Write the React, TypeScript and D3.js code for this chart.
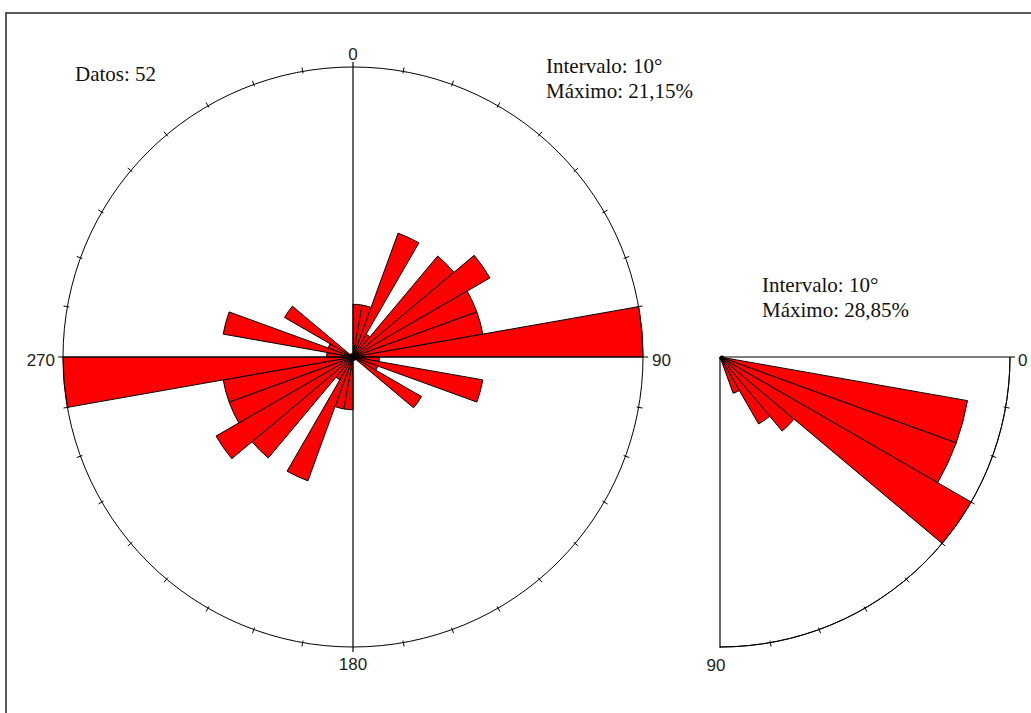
import React from "react";
import * as d3 from "d3";

// ---- data ----
const totalData = 52;
const binWidth = 10;
// strike (axial) bins 0..170, mirrored to 180..350
const strikeBins = [0, 10, 20, 30, 40, 50, 60, 70, 80, 90, 100, 110, 120, 130, 140, 150, 160, 170];
const strikeCounts = [2, 2, 5, 1, 5, 6, 5, 5, 11, 1, 5, 1, 3, 0, 0, 0, 0, 0];
// dip bins 0..80
const dipBins = [0, 10, 20, 30, 40, 50, 60, 70, 80];
const dipCounts = [0, 13, 13, 15, 5, 4, 2, 0, 0];
const mainAxisLabels = ["0", "90", "180", "270"];
const dipAxisLabels = ["0", "90"];

const fmtPct = (v: number) => v.toFixed(2).replace(".", ",") + "%";

const serif = "'Liberation Serif', 'Times New Roman', serif";
const sans = "'Liberation Sans', Arial, sans-serif";

export default function App() {
  const W = 1031;
  const H = 713;
  const toRad = (d: number) => (d * Math.PI) / 180;

  // main rose
  const cx = 353;
  const cy = 357;
  const R = 290;
  const strikePct = strikeCounts.map((c) => (c / totalData) * 100);
  const strikeMax = d3.max(strikePct) as number;
  const rMain = d3.scaleLinear().domain([0, strikeMax]).range([0, R]);
  const arc = d3.arc<any>();

  const mainWedges: { d: string; key: string }[] = [];
  strikeBins.forEach((b, i) => {
    if (strikeCounts[i] <= 0) return;
    [0, 180].forEach((off) => {
      const d = arc({
        innerRadius: 0,
        outerRadius: rMain(strikePct[i]),
        startAngle: toRad(b + off),
        endAngle: toRad(b + off + binWidth),
      }) as string;
      mainWedges.push({ d, key: `m${b}-${off}` });
    });
  });

  const mainTicks = d3.range(0, 360, binWidth).filter((a) => a % 90 !== 0);
  const pt = (x0: number, y0: number, r: number, a: number) => [
    x0 + r * Math.sin(toRad(a)),
    y0 - r * Math.cos(toRad(a)),
  ];

  // dip quarter rose
  const qx = 720;
  const qy = 357;
  const QR = 290;
  const dipPct = dipCounts.map((c) => (c / totalData) * 100);
  const dipMax = d3.max(dipPct) as number;
  const rDip = d3.scaleLinear().domain([0, dipMax]).range([0, QR]);
  const dipWedges = dipBins
    .map((b, i) =>
      dipCounts[i] > 0
        ? {
            key: `d${b}`,
            d: arc({
              innerRadius: 0,
              outerRadius: rDip(dipPct[i]),
              startAngle: toRad(90 + b),
              endAngle: toRad(90 + b + binWidth),
            }) as string,
          }
        : null
    )
    .filter(Boolean) as { key: string; d: string }[];
  const dipArc = arc({
    innerRadius: QR,
    outerRadius: QR,
    startAngle: toRad(90),
    endAngle: toRad(180),
  }) as string;
  const dipTicks = d3.range(binWidth, 90, binWidth);

  return (
    <svg
      width={W}
      height={H}
      style={{ position: "fixed", left: 0, top: 0, background: "#fff" }}
    >
      <rect x={0} y={0} width={W} height={H} fill="#fff" />
      {/* frame */}
      <rect x={6} y={13} width={W + 40} height={H + 40} fill="none" stroke="#333" strokeWidth={1.6} />

      {/* main rose */}
      <g>
        <circle cx={cx} cy={cy} r={R} fill="none" stroke="#000" strokeWidth={1} />
        {mainTicks.map((a) => {
          const [x1, y1] = pt(cx, cy, R - 2, a);
          const [x2, y2] = pt(cx, cy, R + 4, a);
          return <line key={a} x1={x1} y1={y1} x2={x2} y2={y2} stroke="#000" strokeWidth={1} />;
        })}
        <g transform={`translate(${cx},${cy})`}>
          {mainWedges.map((w) => (
            <path key={w.key} d={w.d} fill="#ff0000" stroke="#000" strokeWidth={1} strokeLinejoin="miter" />
          ))}
        </g>
        <line x1={cx} y1={cy - R - 5} x2={cx} y2={cy + R + 5} stroke="#000" strokeWidth={1.2} />
        <line x1={cx - R - 5} y1={cy} x2={cx + R + 5} y2={cy} stroke="#000" strokeWidth={1.2} />
        <circle cx={cx} cy={cy} r={4} fill="#000" />
        <text x={cx} y={60} textAnchor="middle" fontFamily={sans} fontSize={17} fill="#222">
          {mainAxisLabels[0]}
        </text>
        <text x={cx + R + 9} y={366} textAnchor="start" fontFamily={sans} fontSize={17} fill="#222">
          {mainAxisLabels[1]}
        </text>
        <text x={cx} y={670} textAnchor="middle" fontFamily={sans} fontSize={17} fill="#222">
          {mainAxisLabels[2]}
        </text>
        <text x={cx - R - 8} y={366} textAnchor="end" fontFamily={sans} fontSize={17} fill="#222">
          {mainAxisLabels[3]}
        </text>
        <text x={75} y={81} fontFamily={serif} fontSize={21} fill="#111">
          {`Datos: ${totalData}`}
        </text>
        <text x={546} y={73} fontFamily={serif} fontSize={21} fill="#111">
          {`Intervalo: ${binWidth}°`}
        </text>
        <text x={546} y={98} fontFamily={serif} fontSize={21} fill="#111">
          {`Máximo: ${fmtPct(strikeMax)}`}
        </text>
      </g>

      {/* dip quarter rose */}
      <g>
        <g transform={`translate(${qx},${qy})`}>
          <path d={dipArc} fill="none" stroke="#000" strokeWidth={1} />
          {dipWedges.map((w) => (
            <path key={w.key} d={w.d} fill="#ff0000" stroke="#000" strokeWidth={1} />
          ))}
        </g>
        {dipTicks.map((a) => {
          const ang = 90 + a;
          const [x1, y1] = pt(qx, qy, QR - 2, ang);
          const [x2, y2] = pt(qx, qy, QR + 4, ang);
          return <line key={a} x1={x1} y1={y1} x2={x2} y2={y2} stroke="#000" strokeWidth={1} />;
        })}
        <line x1={qx} y1={qy} x2={qx + QR + 5} y2={qy} stroke="#000" strokeWidth={1.2} />
        <line x1={qx} y1={qy} x2={qx} y2={qy + QR + 1} stroke="#000" strokeWidth={1.2} />
        <circle cx={qx + 2} cy={qy + 1} r={2.5} fill="#000" />
        <text x={qx + QR + 8} y={366} fontFamily={sans} fontSize={17} fill="#222">
          {dipAxisLabels[0]}
        </text>
        <text x={qx - 4} y={671} textAnchor="middle" fontFamily={sans} fontSize={17} fill="#222">
          {dipAxisLabels[1]}
        </text>
        <text x={762} y={292} fontFamily={serif} fontSize={21} fill="#111">
          {`Intervalo: ${binWidth}°`}
        </text>
        <text x={762} y={317} fontFamily={serif} fontSize={21} fill="#111">
          {`Máximo: ${fmtPct(dipMax)}`}
        </text>
      </g>
    </svg>
  );
}
